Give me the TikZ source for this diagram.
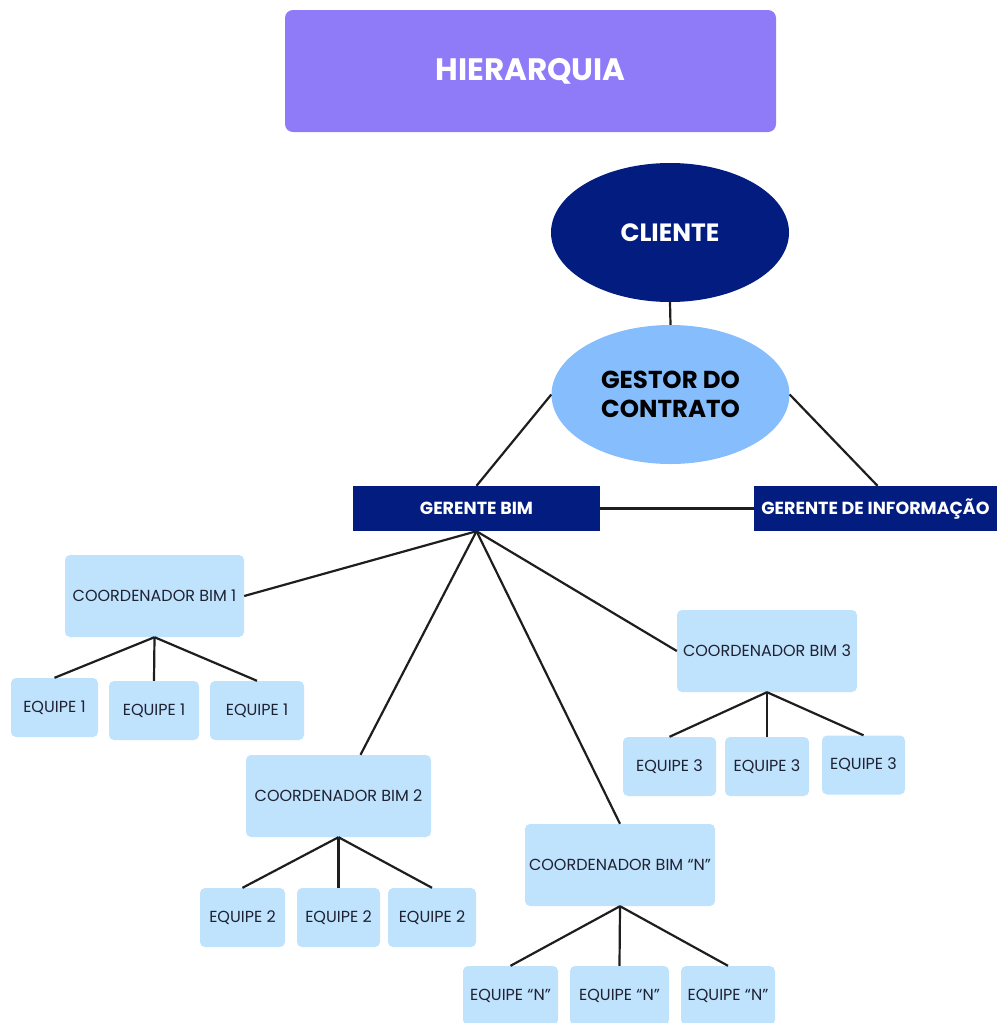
\documentclass[tikz,border=0pt]{standalone}
\usepackage{fontspec}
\setmainfont{Poppins}
\usetikzlibrary{shapes.geometric}
\definecolor{titlepurple}{HTML}{8F7AF8}
\definecolor{navy}{HTML}{021C80}
\definecolor{midblue}{HTML}{85BDFD}
\definecolor{paleblue}{HTML}{BFE2FD}
\definecolor{inkline}{HTML}{1E1E1E}
\definecolor{inktext}{HTML}{1F2233}
\begin{document}
\begin{tikzpicture}[x=1pt,y=-1pt,
  titlebox/.style={fill=titlepurple, rounded corners=8pt, inner sep=0pt,
    minimum width=491pt, minimum height=122pt, text=white,
    font=\fontsize{31}{36}\selectfont\bfseries},
  oval/.style={ellipse, inner sep=0pt, minimum width=238pt, minimum height=139pt},
  darkbar/.style={fill=navy, inner sep=0pt, minimum height=45pt, text=white,
    font=\fontsize{17.5}{20}\selectfont\bfseries},
  coordbox/.style={fill=paleblue, rounded corners=5pt, inner sep=0pt,
    minimum height=82pt, text=inktext, font=\fontsize{16}{19}\selectfont},
  teambox/.style={fill=paleblue, rounded corners=5pt, inner sep=0pt,
    minimum height=59pt, text=inktext, font=\fontsize{16}{19}\selectfont},
  link/.style={draw=inkline, line width=2.2pt}]
\useasboundingbox (0,0) rectangle (997,1023);

% title banner
\node[titlebox] (title) at (530.5,71) {HIERARQUIA};

% top of the hierarchy
\node[oval, fill=navy, text=white, font=\fontsize{25}{29}\selectfont\bfseries]
  (cliente) at (670,232.5) {CLIENTE};
\node[oval, fill=midblue, text=black, align=center,
  font=\fontsize{24.5}{29}\selectfont\bfseries]
  (gestor) at (670.5,394.5) {GESTOR DO\\CONTRATO};

% managers
\node[darkbar, minimum width=247pt] (gbim) at (476.5,508.5) {GERENTE BIM};
\node[darkbar, minimum width=243pt] (ginfo) at (875.5,508.5) {GERENTE DE INFORMAÇÃO};

% coordinators
\node[coordbox, minimum width=179pt] (c1) at (154.5,596) {COORDENADOR BIM 1};
\node[coordbox, minimum width=185pt] (c2) at (338.5,796) {COORDENADOR BIM 2};
\node[coordbox, minimum width=180pt] (c3) at (767,651) {COORDENADOR BIM 3};
\node[coordbox, minimum width=190pt] (cn) at (620,865) {COORDENADOR BIM “N”};

% teams
\node[teambox, minimum width=87pt] (e1a) at (54.5,707.5) {EQUIPE 1};
\node[teambox, minimum width=90pt] (e1b) at (154,710.5) {EQUIPE 1};
\node[teambox, minimum width=94pt] (e1c) at (257,710.5) {EQUIPE 1};

\node[teambox, minimum width=85pt] (e2a) at (242.5,917.5) {EQUIPE 2};
\node[teambox, minimum width=83pt] (e2b) at (338.5,917.5) {EQUIPE 2};
\node[teambox, minimum width=88pt] (e2c) at (432,917.5) {EQUIPE 2};

\node[teambox, minimum width=93pt] (e3a) at (669.5,766.5) {EQUIPE 3};
\node[teambox, minimum width=84pt] (e3b) at (767,766.5) {EQUIPE 3};
\node[teambox, minimum width=83pt] (e3c) at (863.5,765) {EQUIPE 3};

\node[teambox, minimum width=95pt] (ena) at (510.5,995.5) {EQUIPE “N”};
\node[teambox, minimum width=99pt] (enb) at (619.5,995.5) {EQUIPE “N”};
\node[teambox, minimum width=94pt] (enc) at (728,995.5) {EQUIPE “N”};

% connectors
\draw[link] (cliente.south) -- (gestor.north);
\draw[link] (gestor.west) -- (gbim.north);
\draw[link] (gestor.east) -- ([xshift=2pt]ginfo.north);
\draw[link] (gbim.east) -- (ginfo.west);

\draw[link] (gbim.south) -- (c1.east);
\draw[link] (gbim.south) -- ([xshift=22pt]c2.north);
\draw[link] (gbim.south) -- (cn.north);
\draw[link] (gbim.south) -- (c3.west);

\foreach \c/\t in {c1/e1a, c1/e1b, c1/e1c, c2/e2a, c2/e2b, c2/e2c,
                   c3/e3a, c3/e3b, c3/e3c, cn/ena, cn/enb, cn/enc}
  \draw[link] (\c.south) -- (\t.north);
\end{tikzpicture}
\end{document}
